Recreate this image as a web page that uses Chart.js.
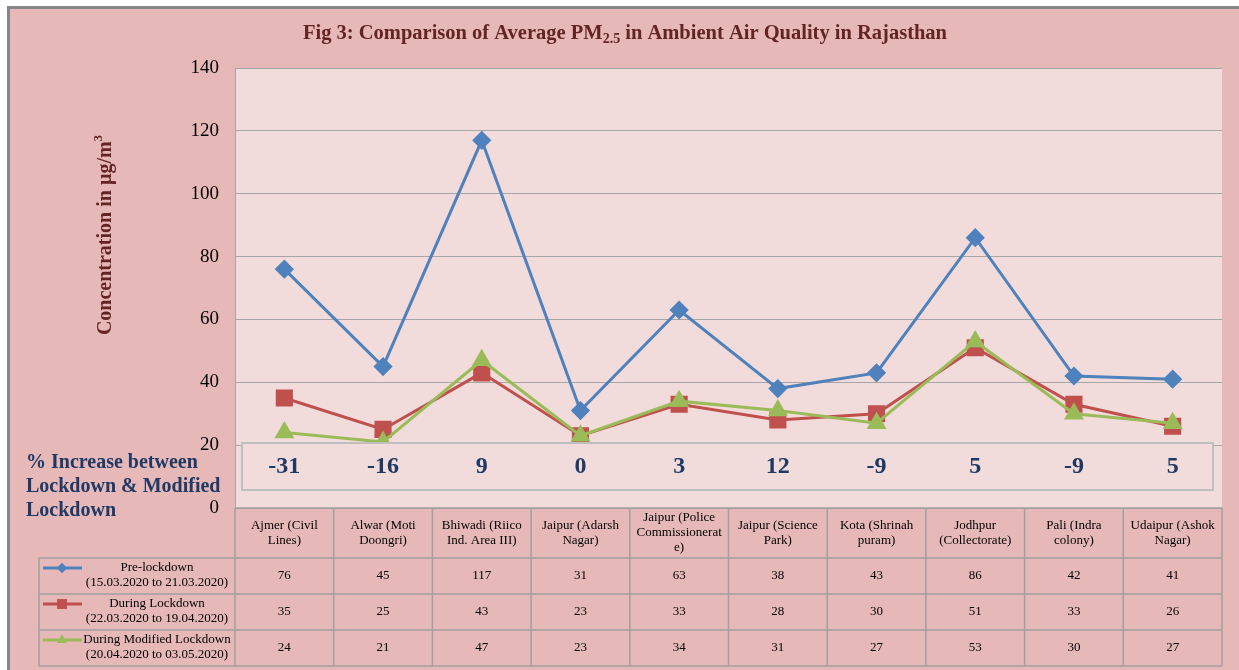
<!DOCTYPE html>
<html>
<head>
<meta charset="utf-8">
<script src="https://cdn.jsdelivr.net/npm/chart.js@4/dist/chart.umd.min.js"></script>
<style>
  html, body { margin: 0; padding: 0; background: #fff; }
  canvas { display: block; }
</style>
</head>
<body>
<canvas id="lineChart" width="1239" height="670"></canvas>
<script>
// station names (header row of the data table)
const stations = [
    ['Ajmer (Civil', 'Lines)'],
    ['Alwar (Moti', 'Doongri)'],
    ['Bhiwadi (Riico', 'Ind. Area III)'],
    ['Jaipur (Adarsh', 'Nagar)'],
    ['Jaipur (Police', 'Commissionerat', 'e)'],
    ['Jaipur (Science', 'Park)'],
    ['Kota (Shrinah', 'puram)'],
    ['Jodhpur', '(Collectorate)'],
    ['Pali (Indra', 'colony)'],
    ['Udaipur (Ashok', 'Nagar)'],
];
const preLockdown = [76, 45, 117, 31, 63, 38, 43, 86, 42, 41];
const duringLockdown = [35, 25, 43, 23, 33, 28, 30, 51, 33, 26];
const modifiedLockdown = [24, 21, 47, 23, 34, 31, 27, 53, 30, 27];
const pctIncrease = [-31, -16, 9, 0, 3, 12, -9, 5, -9, 5];
const yMin = 0, yMax = 140, yStep = 20;
const seriesNames = [
    ['Pre-lockdown', '(15.03.2020 to 21.03.2020)'],
    ['During Lockdown', '(22.03.2020 to 19.04.2020)'],
    ['During Modified Lockdown', '(20.04.2020 to 03.05.2020)'],
];

const SERIF = '"Liberation Serif", "Times New Roman", serif';
const colors = ['#4F81BD', '#C0504D', '#9BBB59'];
const markers = [
    { style: 'rectRot', r: 7.5 },
    { style: 'rect', r: 10 },
    { style: 'triangle', r: 8.5 },
];

function drawMarker(ctx, style, x, y, r, color) {
    ctx.save();
    ctx.fillStyle = color;
    ctx.beginPath();
    if (style === 'rectRot') {
        ctx.moveTo(x - r, y); ctx.lineTo(x, y - r); ctx.lineTo(x + r, y); ctx.lineTo(x, y + r);
    } else if (style === 'rect') {
        const s = r * Math.SQRT1_2;
        ctx.rect(x - s, y - s, 2 * s, 2 * s);
    } else {
        ctx.moveTo(x, y - r);
        ctx.lineTo(x + r * Math.sin(2 * Math.PI / 3), y - r * Math.cos(2 * Math.PI / 3));
        ctx.lineTo(x - r * Math.sin(2 * Math.PI / 3), y - r * Math.cos(2 * Math.PI / 3));
    }
    ctx.closePath();
    ctx.fill();
    ctx.restore();
}

// background, frame and plot area fill
const backdrop = {
    id: 'backdrop',
    beforeDraw(chart) {
        const ctx = chart.ctx, a = chart.chartArea;
        ctx.save();
        ctx.fillStyle = '#fff';
        ctx.fillRect(0, 0, chart.width, chart.height);
        ctx.fillStyle = '#868686';
        ctx.fillRect(7, 6, chart.width - 7, 3);
        ctx.fillRect(7, 6, 3, chart.height - 6);
        ctx.fillStyle = '#E6B9B8';
        ctx.fillRect(10, 9, chart.width - 10, chart.height - 9);
        ctx.fillStyle = '#F2DCDB';
        ctx.fillRect(a.left, a.top, a.right - a.left, a.bottom - a.top);
        ctx.restore();
    },
};

// the "% increase" box laid over the bottom of the plot
const pctBox = {
    id: 'pctBox',
    afterDatasetsDraw(chart) {
        const ctx = chart.ctx, xs = chart.scales.x;
        ctx.save();
        ctx.fillStyle = '#F2DCDB';
        ctx.fillRect(242, 443, 971, 47);
        ctx.strokeStyle = '#BFBFBF';
        ctx.lineWidth = 2;
        ctx.strokeRect(242, 443, 971, 47);
        ctx.fillStyle = '#1F3864';
        ctx.font = 'bold 24px ' + SERIF;
        ctx.textAlign = 'center';
        ctx.textBaseline = 'middle';
        pctIncrease.forEach((v, i) => ctx.fillText(String(v), xs.getPixelForValue(i), 467));

        ctx.textAlign = 'left';
        ctx.font = 'bold 20px ' + SERIF;
        ['% Increase between', 'Lockdown & Modified', 'Lockdown'].forEach((t, i) => {
            ctx.fillText(t, 26, 463 + i * 24);
        });
        ctx.restore();
    },
};

// title, axis title and data table
const extras = {
    id: 'extras',
    afterDraw(chart) {
        const ctx = chart.ctx, a = chart.chartArea, xs = chart.scales.x;
        ctx.save();

        // title with subscript
        ctx.fillStyle = '#632523';
        ctx.textBaseline = 'alphabetic';
        const f1 = 'bold 20.5px ' + SERIF, f2 = 'bold 14px ' + SERIF;
        const p1 = 'Fig 3: Comparison of Average PM', sub = '2.5', p2 = ' in Ambient Air Quality in Rajasthan';
        ctx.font = f1; const w1 = ctx.measureText(p1).width, w3 = ctx.measureText(p2).width;
        ctx.font = f2; const w2 = ctx.measureText(sub).width;
        let x = 625 - (w1 + w2 + w3) / 2;
        ctx.textAlign = 'left';
        ctx.font = f1; ctx.fillText(p1, x, 39);
        ctx.font = f2; ctx.fillText(sub, x + w1, 43);
        ctx.font = f1; ctx.fillText(p2, x + w1 + w2, 39);

        // y axis title (rotated)
        ctx.save();
        ctx.translate(106, 235);
        ctx.rotate(-Math.PI / 2);
        const yt = 'Concentration in \u00b5g/m', ys = '3';
        ctx.font = 'bold 20px ' + SERIF; const wy = ctx.measureText(yt).width;
        ctx.font = 'bold 13px ' + SERIF; const ws = ctx.measureText(ys).width;
        const sx = -(wy + ws) / 2;
        ctx.textBaseline = 'middle';
        ctx.font = 'bold 20px ' + SERIF; ctx.fillText(yt, sx, 0);
        ctx.font = 'bold 13px ' + SERIF; ctx.fillText(ys, sx + wy, -7);
        ctx.restore();

        // data table
        const colW = (a.right - a.left) / stations.length;
        const headTop = a.bottom, headBot = a.bottom + 50, rowH = 36;
        const tableBot = headBot + rowH * 3;
        ctx.strokeStyle = '#A0A0A0';
        ctx.lineWidth = 1.5;
        ctx.beginPath();
        for (let i = 0; i <= stations.length; i++) {
            const gx = a.left + i * colW;
            ctx.moveTo(gx, headTop); ctx.lineTo(gx, tableBot);
        }
        ctx.moveTo(a.left, headTop); ctx.lineTo(a.right, headTop);
        for (let r = 0; r <= 3; r++) {
            const gy = headBot + r * rowH;
            ctx.moveTo(39, gy); ctx.lineTo(a.right, gy);
        }
        ctx.moveTo(39, headBot); ctx.lineTo(39, tableBot);
        ctx.stroke();

        ctx.fillStyle = '#000';
        ctx.textAlign = 'center';
        ctx.textBaseline = 'middle';
        ctx.font = '13px ' + SERIF;
        const mid = (headTop + headBot) / 2;
        stations.forEach((lines, i) => {
            const cx = xs.getPixelForValue(i);
            lines.forEach((t, k) => ctx.fillText(t, cx, mid + (k - (lines.length - 1) / 2) * 15));
        });
        [preLockdown, duringLockdown, modifiedLockdown].forEach((vals, r) => {
            const cy = headBot + r * rowH + rowH / 2;
            vals.forEach((v, i) => ctx.fillText(String(v), xs.getPixelForValue(i), cy));
        });

        // legend keys in first column
        seriesNames.forEach((lines, r) => {
            const top = headBot + r * rowH;
            const ly = top + 10;
            ctx.strokeStyle = colors[r];
            ctx.lineWidth = 3;
            ctx.beginPath(); ctx.moveTo(43, ly); ctx.lineTo(82, ly); ctx.stroke();
            drawMarker(ctx, markers[r].style, 62, ly, markers[r].r * 0.7, colors[r]);
            ctx.fillStyle = '#000';
            ctx.fillText(lines[0], 157, ly);
            ctx.fillText(lines[1], 157, ly + 15);
        });
        ctx.restore();
    },
};

const series = [preLockdown, duringLockdown, modifiedLockdown];
const ctx = document.getElementById('lineChart');
new Chart(ctx, {
    type: 'line',
    data: {
        labels: stations,
        datasets: series.map((vals, i) => ({
            label: seriesNames[i].join(' '),
            data: vals,
            borderColor: colors[i],
            backgroundColor: colors[i],
            pointBackgroundColor: colors[i],
            pointBorderColor: colors[i],
            pointStyle: markers[i].style,
            pointRadius: markers[i].r,
            borderWidth: 3,
            tension: 0,
            fill: false,
            order: 3 - i,
        })),
    },
    options: {
        responsive: false,
        animation: false,
        events: [],
        layout: { padding: { left: 0, top: 68, right: 17, bottom: 162 } },
        plugins: { legend: { display: false }, tooltip: { enabled: false } },
        scales: {
            x: { display: false, offset: true },
            y: {
                min: yMin,
                max: yMax,
                afterFit(scale) { scale.width = 235; },
                ticks: {
                    stepSize: yStep,
                    padding: 16,
                    color: '#000',
                    font: { family: SERIF, size: 19 },
                },
                grid: { color: '#A6A6A6', lineWidth: 1, drawTicks: false },
                border: { color: '#A6A6A6', width: 1 },
            },
        },
    },
    plugins: [backdrop, pctBox, extras],
});
</script>
</body>
</html>
